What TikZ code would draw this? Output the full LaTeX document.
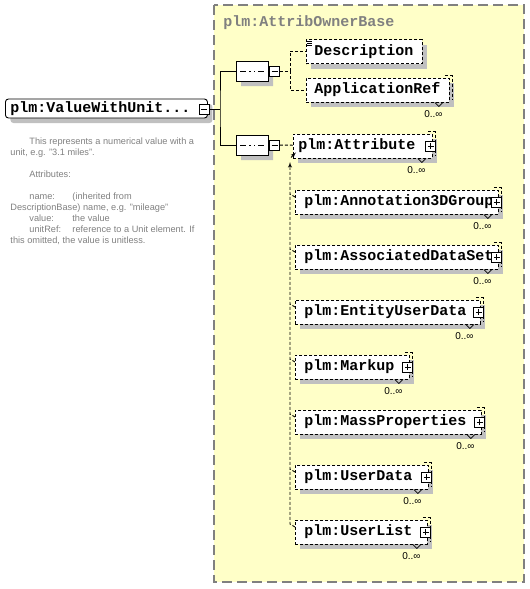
\documentclass[tikz,border=0pt]{standalone}
\usepackage{fontspec}
\setmainfont{Liberation Sans}
\newfontfamily\xsdfont{Liberation Mono}
\usepackage{xcolor}
\definecolor{paleyellow}{RGB}{255,255,200}
\definecolor{shadegray}{RGB}{192,192,192}
\definecolor{notegray}{RGB}{128,128,128}
\usetikzlibrary{shapes.misc, shadows, arrows}

\begin{document}
\begin{tikzpicture}
[x=1pt, y=-1pt,
 >=latex',
 line width=0.9pt,
 boxshadow/.style={drop shadow={shadow xshift=5pt, shadow yshift=-5pt, fill=shadegray, opacity=1}},
 dashline/.style={dash pattern=on 3pt off 2pt},
 xsdbox/.style={draw, fill=white, boxshadow, anchor=west, align=left,
   minimum height=24pt, inner ysep=0pt, inner xsep=9pt,
   font=\xsdfont\bfseries\fontsize{15}{18}\selectfont},
 elem/.style={xsdbox, dashline},
 pmbox/.style={draw, solid, fill=white, minimum size=10pt, inner sep=0pt},
 minusbox/.style={pmbox, path picture={
   \draw ([xshift=-3pt]path picture bounding box.center) -- ([xshift=3pt]path picture bounding box.center);}},
 plusbox/.style={pmbox, path picture={
   \draw ([xshift=-3pt]path picture bounding box.center) -- ([xshift=3pt]path picture bounding box.center)
         ([yshift=-3pt]path picture bounding box.center) -- ([yshift=3pt]path picture bounding box.center);}},
 seqbox/.style={chamfered rectangle, chamfered rectangle xsep=5pt, chamfered rectangle ysep=6pt,
   draw, fill=white, boxshadow, inner sep=0pt, minimum width=32pt, minimum height=20pt,
   path picture={
   \draw ([xshift=-12pt]path picture bounding box.center) -- ([xshift=12pt]path picture bounding box.center);
   \foreach \d in {-6pt,-1.5pt,3pt}
     \fill ([shift={(\d,-1pt)}]path picture bounding box.center) rectangle ++(3pt,2pt);}},
 groupbox/.style={draw=notegray, fill=paleyellow, line width=1.5pt, dash pattern=on 10pt off 5pt},
 occ/.style={anchor=base, inner sep=0pt, font=\fontsize{10}{12}\selectfont},
 notetext/.style={anchor=base west, inner sep=0pt, text=notegray, font=\fontsize{9.2}{11}\selectfont},
]
\useasboundingbox (0,0) rectangle (530,589);

% complex type area
\draw[groupbox] (214,5) rectangle (524,582);
\node[anchor=base west, inner sep=0pt, text=notegray,
      font=\xsdfont\bfseries\fontsize{15}{18}\selectfont] (title) at (223,26) {plm:AttribOwnerBase};

% root element and its annotation
\node[xsdbox, rounded corners=3pt, inner xsep=5pt, minimum height=19pt, text width=192pt] (root) at (5,108.5) {plm:ValueWithUnit...};
\node[minusbox] (rootm) at (204,109) {};

\node[notetext] (note1) at (29,144) {This represents a numerical value with a};
\node[notetext] (note2) at (10,155) {unit, e.g. "3.1 miles".};
\node[notetext] (note3) at (29,177) {Attributes:};
\node[notetext] (note4) at (29,199) {\makebox[43pt][l]{name:}(inherited from};
\node[notetext] (note5) at (10,210) {DescriptionBase) name, e.g. "mileage"};
\node[notetext] (note6) at (29,221) {\makebox[43pt][l]{value:}the value};
\node[notetext] (note7) at (29,232) {\makebox[43pt][l]{unitRef:}reference to a Unit element. If};
\node[notetext] (note8) at (10,243) {this omitted, the value is unitless.};

% sequences
\node[seqbox] (seqA) at (252,71) {};
\node[minusbox] (seqAm) at (274.5,71) {};
\node[seqbox] (seqB) at (252,145) {};
\node[minusbox] (seqBm) at (274.5,145) {};

% children
\node[elem, inner xsep=8pt, text width=100pt] (desc)   at (306,51.5) {Description};
\node[elem, inner xsep=8pt, text width=127pt] (appref) at (306,90)   {ApplicationRef};
\node[elem, inner xsep=5pt, text width=129pt] (attr)   at (293,146)  {plm:Attribute};
\node[elem, text width=185pt] (anno)   at (295,202) {plm:Annotation3DGroup};
\node[elem, text width=185pt] (assoc)  at (295,257) {plm:AssociatedDataSet};
\node[elem, text width=167pt] (entity) at (295,312) {plm:EntityUserData};
\node[elem, text width=96pt]  (markup) at (295,367) {plm:Markup};
\node[elem, text width=168pt] (mass)   at (295,422) {plm:MassProperties};
\node[elem, text width=115pt] (udata)  at (295,477) {plm:UserData};
\node[elem, text width=114pt] (ulist)  at (295,532) {plm:UserList};

\foreach \d in {2pt,4pt,6pt}
  \draw[line width=0.6pt] ([shift={(1pt,-\d)}]desc.north west) -- ++(5,0);

\foreach \n in {appref, attr, anno, assoc, entity, markup, mass, udata, ulist} {
  \draw[line width=0.7pt, dashline] ([shift={(-5pt,2pt)}]\n.north east) -| ([shift={(2pt,2pt)}]\n.south east);
  \draw[line width=0.7pt] ([xshift=-15pt]\n.south east) -- ++(4,4) -- ++(4,-4);
  \node[occ] (\n-occ) at ([shift={(-16.5pt,-15pt)}]\n.south east) {0..∞};
}
\foreach \n in {attr, anno, assoc, entity, markup, mass, udata, ulist}
  \node[plusbox] (\n-plus) at ([xshift=-2pt]\n.east) {};

% connectors
\coordinate (trunk) at (220,109);
\coordinate (brA) at (290,71);
\coordinate (subs) at (290,162);

\draw (rootm) -- (trunk);
\draw (seqA) -| (trunk) |- (seqB);
\draw (seqA) -- (seqAm);
\draw (seqB) -- (seqBm);
\draw[dashline] (seqAm) -- (brA) |- (desc);
\draw[dashline] (brA) |- (appref);
\draw[dashline] (seqBm) -- (attr);

\draw[dashline, ->] ([yshift=5pt]ulist.west) -- ++(-5,-3) -- (subs);
\foreach \n in {anno, assoc, entity, markup, mass, udata}
  \draw[dashline] ([yshift=5pt]\n.west) -- ++(-5,-3);
\draw[->] ([shift={(-2pt,1pt)}]attr.south west) -- ([shift={(3pt,6pt)}]attr.south west);
\end{tikzpicture}
\end{document}
